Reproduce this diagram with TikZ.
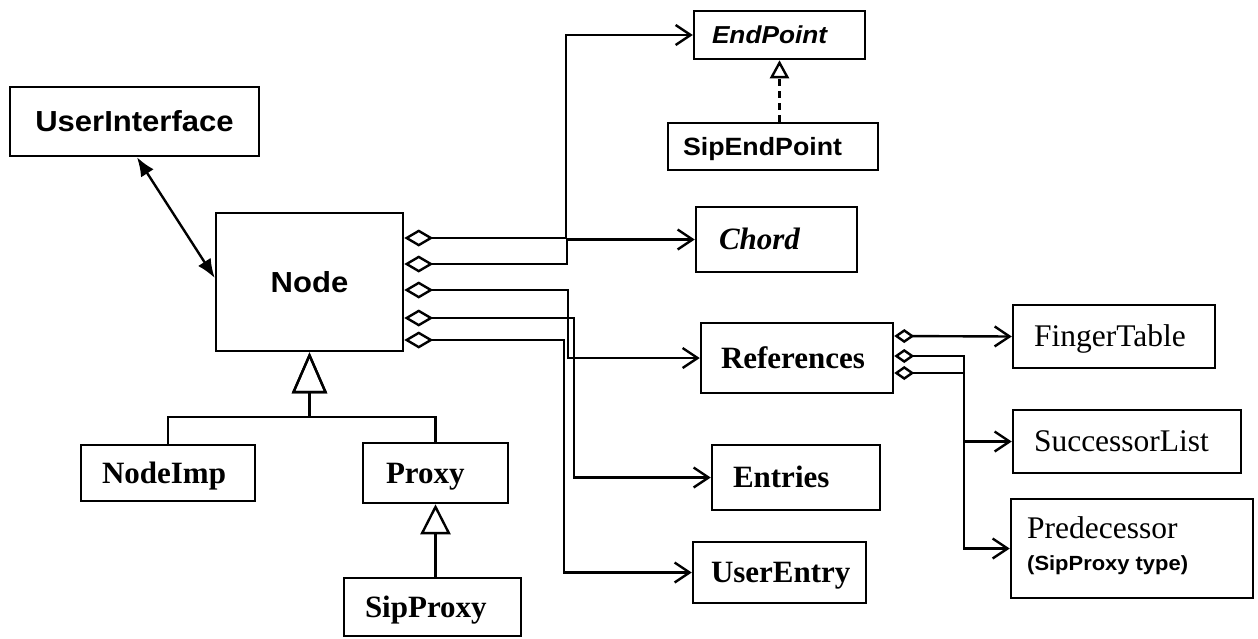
\documentclass[tikz,border=0pt]{standalone}
\usepackage{fontspec}
\setmainfont{Liberation Serif}
\newfontfamily\hsans[FakeStretch=1.07]{Liberation Sans}
\usetikzlibrary{arrows.meta}
\begin{document}
\begin{tikzpicture}[x=1pt,y=-1pt,
  box/.style={draw, line width=2.5pt, inner ysep=0pt, text depth=0pt},
  lbox/.style={box, align=left},
  sansbig/.style={font=\hsans\bfseries\fontsize{29}{33}\selectfont, text height=20.7pt},
  serb/.style={font=\bfseries\fontsize{31}{36}\selectfont, text height=20.5pt},
  serr/.style={font=\fontsize{31.5}{36}\selectfont, text height=20.8pt},
  conn/.style={line width=2.4pt},
  agg/.style={conn, {Diamond[open,length=29pt,width=17pt]}-{Straight Barb[length=15pt,width=20pt]}},
  sagg/.style={conn, {Diamond[open,length=20pt,width=14pt]}-{Straight Barb[length=15pt,width=20pt]}},
  gen/.style={conn, -{Triangle[open,length=41pt,width=35pt]}},
]
\useasboundingbox (0,0) rectangle (1258,638);
\node[box, sansbig, minimum width=249pt, minimum height=69pt] (ui) at (134.5,121.5) {UserInterface};
\node[box, sansbig, minimum width=187pt, minimum height=138pt] (nd) at (309.5,282) {Node};
\node[lbox, font=\hsans\bfseries\itshape\fontsize{24.5}{28}\selectfont, text height=17.5pt, text width=135pt, inner xsep=18pt, minimum height=48pt] (ep) at (779.5,35) {EndPoint};
\node[lbox, font=\hsans\bfseries\fontsize{25}{28}\selectfont, text height=17.9pt, text width=180pt, inner xsep=15pt, minimum height=47pt] (sep) at (773,146.5) {SipEndPoint};
\node[lbox, font=\bfseries\itshape\fontsize{31}{36}\selectfont, text height=20.5pt, text width=115pt, inner xsep=23pt, minimum height=65pt] (ch) at (776.5,239.5) {Chord};
\node[lbox, serb, text width=152pt, inner xsep=20pt, minimum height=70pt] (ref) at (797,358) {References};
\node[lbox, serb, text width=126pt, inner xsep=21pt, minimum height=65pt] (ent) at (796,477.5) {Entries};
\node[lbox, serb, text width=137pt, inner xsep=18pt, minimum height=61pt] (ue) at (779.5,572.5) {UserEntry};
\node[lbox, serr, text width=160pt, inner xsep=21pt, minimum height=63pt] (ft) at (1114,336.5) {FingerTable};
\node[lbox, serr, text width=186pt, inner xsep=21pt, minimum height=63pt] (sl) at (1127,441.5) {SuccessorList};
\node[box, minimum width=242pt, minimum height=99pt] (pred) at (1132,548.5) {};
\node[anchor=base west, inner sep=0pt, font=\fontsize{31.5}{36}\selectfont] (predA) at (1027,538) {Predecessor};
\node[anchor=base west, inner sep=0pt, font=\hsans\bfseries\fontsize{20.5}{24}\selectfont] (predB) at (1027,570) {(SipProxy type)};
\node[lbox, serb, text width=132pt, inner xsep=21pt, minimum height=56pt] (ni) at (168,473) {NodeImp};
\node[lbox, serb, text width=99pt, inner xsep=23pt, minimum height=60pt] (px) at (435.5,473) {Proxy};
\node[lbox, serb, text width=135pt, inner xsep=21pt, minimum height=58pt] (sp) at (432.5,607) {SipProxy};

\draw[agg] ([yshift=44pt]nd.east) -- ++(162,0) |- (ep.west);
\draw[agg] ([yshift=18pt]nd.east) -- ++(163,0) |- (ch.west);
\draw[agg] ([yshift=-8pt]nd.east) -- ++(164,0) |- (ref.west);
\draw[agg] ([yshift=-36pt]nd.east) -- ++(170,0) |- (ent.west);
\draw[agg] ([yshift=-58pt]nd.east) -- ++(160,0) |- (ue.west);

\draw[sagg] ([yshift=22pt]ref.east) -- (ft.west);
\draw[sagg] ([yshift=2pt]ref.east) -- ++(70,0) |- (sl.west);
\draw[sagg] ([yshift=-15pt]ref.east) -- ++(70,0) |- (pred.west);

\draw[gen] (ni.north) -- ++(0,-27) -| (nd.south);
\draw[gen] (px.north) -- ++(0,-25) -| (nd.south);
\draw[conn, -{Triangle[open,length=30pt,width=30pt]}] (px.south |- sp.north) -- (px.south);
\draw[conn, dash pattern=on 7pt off 5pt, -{Triangle[open,length=18pt,width=19pt]}] (ep.south |- sep.north) -- (ep.south);

\draw[conn, {Latex[length=19pt,width=15pt]}-{Latex[length=19pt,width=15pt]}] ([xshift=2.5pt]ui.south) -- ([yshift=4pt]nd.west);
\end{tikzpicture}
\end{document}
